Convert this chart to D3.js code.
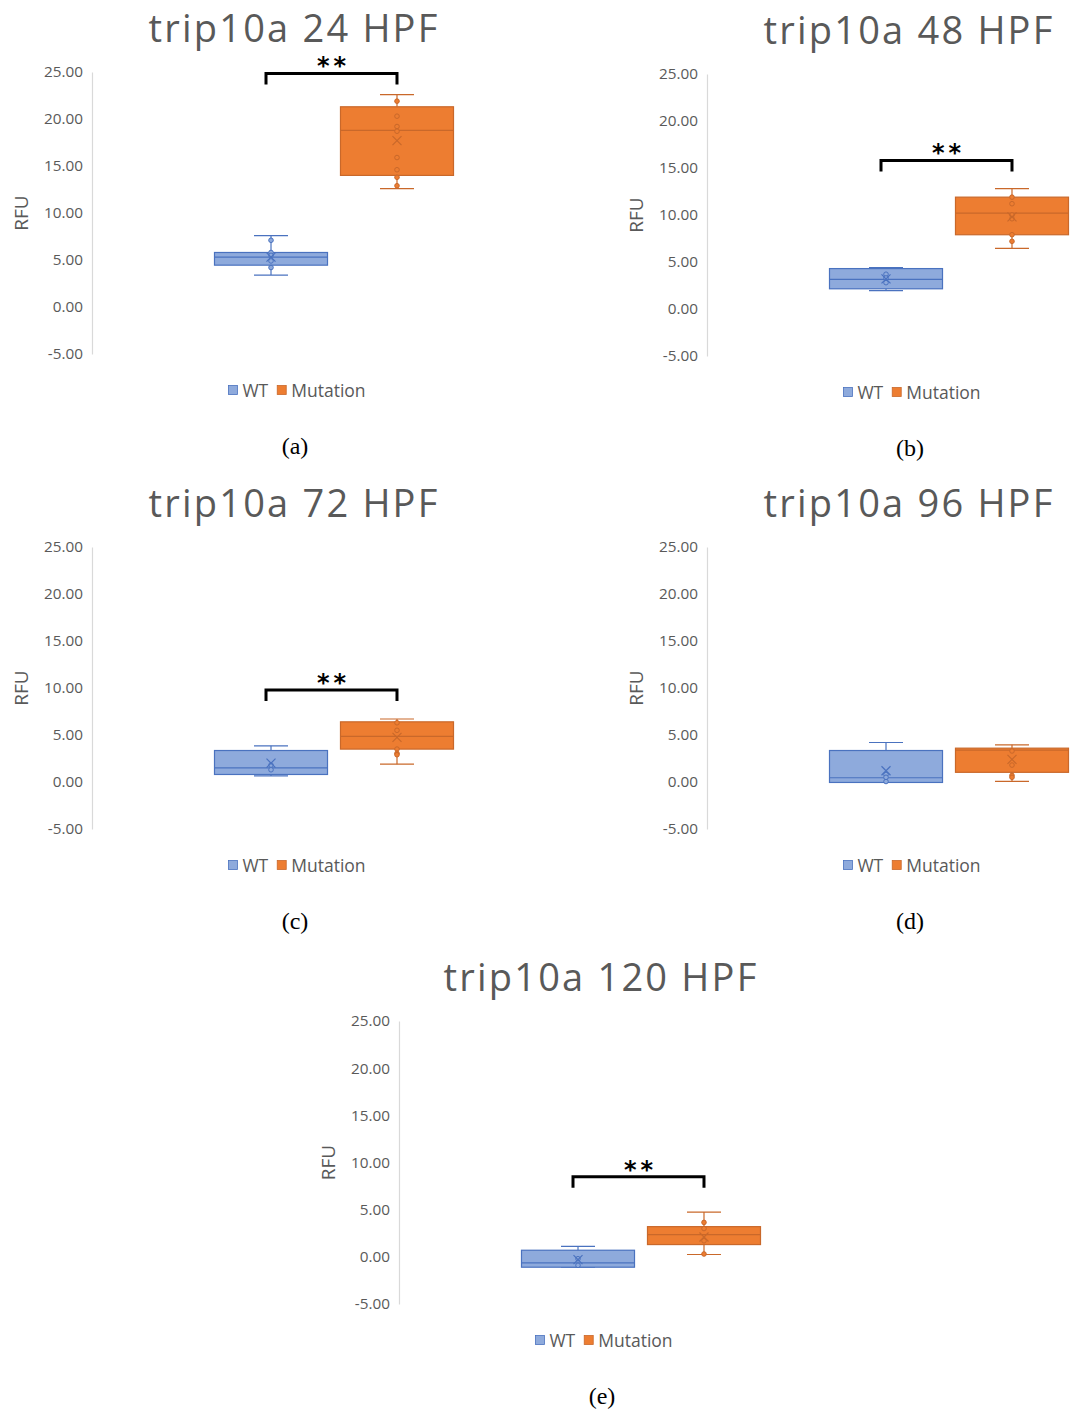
<!DOCTYPE html>
<html><head><meta charset="utf-8">
<script src="https://cdn.jsdelivr.net/npm/d3@7"></script>
<style>body{margin:0;background:#fff}</style>
</head><body>
<svg id="chart" width="1070" height="1410"></svg>
<script>
// ---------- data ----------
const titles = ["trip10a 24 HPF", "trip10a 48 HPF", "trip10a 72 HPF", "trip10a 96 HPF", "trip10a 120 HPF"];
const captions = ["(a)", "(b)", "(c)", "(d)", "(e)"];
const categories = ["WT", "Mutation"];
const yTicks = [25, 20, 15, 10, 5, 0, -5];
const yTickLabels = ["25.00", "20.00", "15.00", "10.00", "5.00", "0.00", "-5.00"];
// [min, q1, median, q3, max, mean]
const wtBox = [
  [3.4, 4.45, 5.3, 5.8, 7.6, 5.3],
  [1.95, 2.15, 3.15, 4.3, 4.4, 3.2],
  [0.65, 0.8, 1.5, 3.35, 3.85, 2.0],
  [-0.05, -0.05, 0.45, 3.35, 4.2, 1.2],
  [-1.1, -1.1, -0.65, 0.7, 1.1, -0.3]
];
const mutBox = [
  [12.6, 14.0, 18.8, 21.3, 22.6, 17.7],
  [6.45, 7.9, 10.2, 11.9, 12.8, 9.8],
  [1.9, 3.5, 4.85, 6.4, 6.7, 4.75],
  [0.07, 1.03, 3.4, 3.6, 3.95, 2.4],
  [0.25, 1.3, 2.35, 3.2, 4.75, 2.1]
];
const wtPoints = [
  [7.1, 5.8, 5.5, 4.9, 4.2],
  [3.7, 3.3, 2.8],
  [1.3, 1.8],
  [0.8, 0.05, 0.5],
  [-0.2, -0.9]
];
const mutPoints = [
  [21.9, 20.3, 19.2, 18.7, 15.9, 14.6, 13.8, 12.9],
  [11.9, 11.2, 10.0, 9.6, 7.9, 7.2],
  [6.3, 5.5, 3.5, 3.05, 2.9],
  [3.3, 1.8, 0.7, 0.5],
  [3.65, 3.0, 1.7, 0.3]
];
// significance bracket level (value), null = none
const bracketLevel = [24.85, 15.8, 9.8, null, 8.5];
const significance = ["**", "**", "**", null, "**"];

// ---------- layout ----------
const layout = [
  {ax: 92,  top: 72,   bottom: 354},
  {ax: 707, top: 74,   bottom: 356},
  {ax: 92,  top: 547,  bottom: 829},
  {ax: 707, top: 547,  bottom: 829},
  {ax: 399, top: 1021, bottom: 1304}
];
const colors = {
  WT: {fill: "#8eaadc", stroke: "#4a72bf"},
  Mutation: {fill: "#ed7d31", stroke: "#c9682a"}
};
const textGrey = "#595959";
const sans = "'Open Sans', 'Noto Sans', sans-serif";

const svg = d3.select("#chart");
svg.append("rect").attr("width", 1070).attr("height", 1410).attr("fill", "#fff");

layout.forEach((L, i) => {
  const g = svg.append("g");
  const y = d3.scaleLinear().domain([-5, 25]).range([L.bottom, L.top]);
  const x = d3.scaleBand().domain(categories)
    .range([L.ax + 122.5, L.ax + 361.5]).paddingInner(0.103).paddingOuter(0);
  const bw = x.bandwidth();

  // axis
  const axis = d3.axisLeft(y).tickValues(yTicks)
    .tickFormat((d, k) => yTickLabels[k]).tickSize(0).tickPadding(9);
  const ag = g.append("g").attr("transform", `translate(${L.ax},0)`).call(axis);
  ag.select(".domain").attr("stroke", "#d9d9d9").attr("stroke-width", 1.2);
  ag.selectAll("text").attr("fill", textGrey).attr("font-family", sans).attr("font-size", 15.3);

  // y label
  g.append("text").attr("transform", `translate(${L.ax - 71},${(L.top + L.bottom) / 2}) rotate(-90)`)
    .attr("text-anchor", "middle").attr("dominant-baseline", "central")
    .attr("font-family", sans).attr("font-size", 19).attr("fill", textGrey).text("RFU");

  // title
  g.append("text").attr("x", L.ax + 202).attr("y", L.top - 30)
    .attr("text-anchor", "middle").attr("font-family", sans).attr("font-size", 38)
    .attr("letter-spacing", 2.2)
    .attr("fill", textGrey).text(titles[i]);

  // boxes
  const series = [
    {cat: "WT", box: wtBox[i], pts: wtPoints[i]},
    {cat: "Mutation", box: mutBox[i], pts: mutPoints[i]}
  ];
  series.forEach(s => {
    const c = colors[s.cat];
    const [mn, q1, md, q3, mx, mean] = s.box;
    const x0 = x(s.cat), cx = x0 + bw / 2;
    const sg = g.append("g");
    sg.append("line").attr("x1", cx).attr("x2", cx).attr("y1", y(mx)).attr("y2", y(q3))
      .attr("stroke", c.stroke).attr("stroke-width", 1.2);
    sg.append("line").attr("x1", cx).attr("x2", cx).attr("y1", y(q1)).attr("y2", y(mn))
      .attr("stroke", c.stroke).attr("stroke-width", 1.2);
    [mx, mn].forEach(v => sg.append("line").attr("x1", cx - 17).attr("x2", cx + 17)
      .attr("y1", y(v)).attr("y2", y(v)).attr("stroke", c.stroke).attr("stroke-width", 1.2));
    sg.append("rect").attr("x", x0).attr("y", y(q3)).attr("width", bw).attr("height", y(q1) - y(q3))
      .attr("fill", c.fill).attr("stroke", c.stroke).attr("stroke-width", 1.2);
    sg.append("line").attr("x1", x0).attr("x2", x0 + bw).attr("y1", y(md)).attr("y2", y(md))
      .attr("stroke", c.stroke).attr("stroke-width", 1.2);
    sg.selectAll("circle").data(s.pts).join("circle")
      .attr("cx", cx).attr("cy", d => y(d)).attr("r", 2.3)
      .attr("fill", c.fill).attr("stroke", c.stroke).attr("stroke-width", 1);
    const my = y(mean);
    sg.append("path").attr("d", `M${cx - 4.5},${my - 4.5}L${cx + 4.5},${my + 4.5}M${cx - 4.5},${my + 4.5}L${cx + 4.5},${my - 4.5}`)
      .attr("stroke", c.stroke).attr("stroke-width", 1.2).attr("fill", "none");
  });

  // significance bracket
  if (bracketLevel[i] !== null) {
    const lx = x("WT") + bw / 2 - 5, rx = x("Mutation") + bw / 2;
    const by = y(bracketLevel[i]), legY = by + 11;
    g.append("path").attr("d", `M${lx},${legY}L${lx},${by}L${rx},${by}L${rx},${legY}`)
      .attr("fill", "none").attr("stroke", "#000").attr("stroke-width", 3);
    g.append("text").attr("x", (lx + rx) / 2 + 2).attr("y", by + 1)
      .attr("text-anchor", "middle").attr("font-family", "'DejaVu Sans', sans-serif")
      .attr("font-weight", "bold").attr("font-size", 24).attr("letter-spacing", 4)
      .attr("fill", "#000").text(significance[i]);
  }

  // legend
  const lg = g.append("g");
  const ly = L.bottom + 36;
  let cur = 0;
  categories.forEach((cat) => {
    const it = lg.append("g");
    it.append("rect").attr("x", 0).attr("y", -4.5).attr("width", 9).attr("height", 9)
      .attr("fill", colors[cat].fill).attr("stroke", colors[cat].stroke).attr("stroke-width", 0.8);
    const t = it.append("text").attr("x", 14).attr("y", 0).attr("dominant-baseline", "central")
      .attr("font-family", sans).attr("font-size", 17.5).attr("fill", textGrey).text(cat);
    const w = 14 + t.node().getComputedTextLength();
    it.attr("transform", `translate(${cur},0)`);
    cur += w + 9;
  });
  const totalW = cur - 9;
  lg.attr("transform", `translate(${L.ax + 205 - totalW / 2},${ly})`);

  // caption
  g.append("text").attr("x", L.ax + 203).attr("y", L.bottom + 92)
    .attr("text-anchor", "middle").attr("dominant-baseline", "central")
    .attr("font-family", "'Liberation Serif', 'DejaVu Serif', serif").attr("font-size", 24)
    .attr("fill", "#000").text(captions[i]);
});
</script>
</body></html>
